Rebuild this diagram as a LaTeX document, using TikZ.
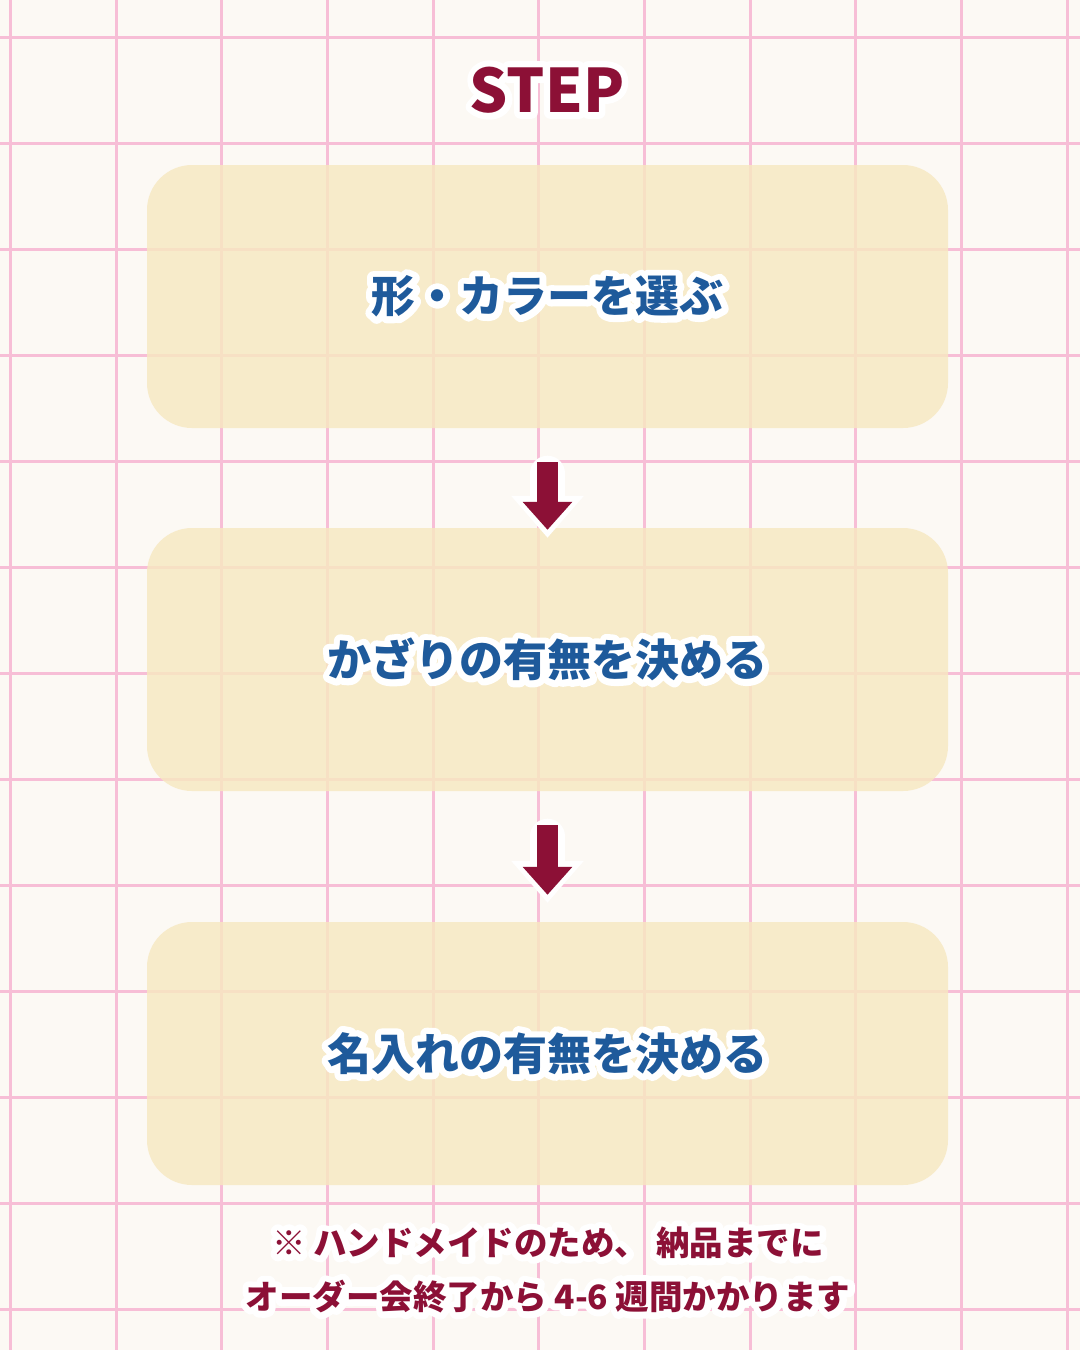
\documentclass[tikz,border=0pt]{standalone}
\usepackage{fontspec}
\newfontfamily\jpfont{Noto Sans CJK JP}
\usetikzlibrary{arrows.meta}

\definecolor{paper}{HTML}{FCF9F4}
\definecolor{gridpink}{HTML}{F7BED6}
\definecolor{cream}{HTML}{F7E8C1}
\definecolor{wine}{HTML}{8C1036}
\definecolor{ink}{HTML}{1E5A9B}

% white outline behind a line of text (stroked copy, then the filled text)
\newcommand\halo[1]{\leavevmode\rlap{\special{pdf:literal direct 1 Tr 13 w 1 J 1 j 1 1 1 RG}#1\special{pdf:literal direct 0 Tr 1 w}}#1}

\tikzset{
  gridline/.style={gridpink, line width=3pt},
  stepbox/.style={rounded corners=45pt, fill=cream, fill opacity=0.82, text opacity=1,
    minimum width=801pt, minimum height=263pt, text=ink,
    font=\jpfont\bfseries\fontsize{44}{50}\selectfont},
  stepdownhalo/.style={white, line width=35pt, line cap=round, -{Triangle[width=70pt,length=42pt]}},
  stepdown/.style={wine, line width=21pt, -{Triangle[width=48pt,length=28pt,sep=8pt]}}
}

\begin{document}
\begin{tikzpicture}[x=1pt,y=-1pt]
  \fill[paper] (0,0) rectangle (1080,1350);
  \useasboundingbox (0,0) rectangle (1080,1350);

  \foreach \i in {0,...,10}
    \draw[gridline] (10.5+105.65*\i,0) -- (10.5+105.65*\i,1350);
  \foreach \j in {0,...,12}
    \draw[gridline] (0,37+106*\j) -- (1080,37+106*\j);

  \node (title) [text=wine, font=\jpfont\bfseries\fontsize{60}{60}\selectfont] at (547,90) {\halo{STEP}};

  \begin{scope}[every node/.style={stepbox}]
    \node (shape) at (547.5,296.5) {\halo{形・カラーを選ぶ}};
    \node (deco) at (547.5,659.5) {\halo{かざりの有無を決める}};
    \node (name) at (547.5,1053.5) {\halo{名入れの有無を決める}};
  \end{scope}

  \foreach \a/\b/\gap in {shape/deco/-10, deco/name/19} {
    \draw[stepdownhalo, shorten <=45pt, shorten >=\gap pt] (\a) -- (\b);
    \draw[stepdown, shorten <=34pt, shorten >=\gap pt] (\a) -- (\b);
  }

  \node (note) [text=wine, align=center, font=\jpfont\bfseries\fontsize{33.5}{54}\selectfont] at (548,1270)
    {\halo{※ ハンドメイドのため、 納品までに}\\\halo{オーダー会終了から 4-6 週間かかります}};
\end{tikzpicture}
\end{document}
